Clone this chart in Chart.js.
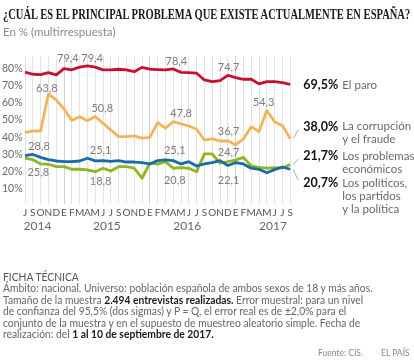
<!DOCTYPE html>
<html>
<head>
<meta charset="utf-8">
<script src="https://cdn.jsdelivr.net/npm/chart.js@4.4.1/dist/chart.umd.min.js"></script>
<style>
  body { margin: 0; background: #fff; }
  #wrap { position: relative; width: 414px; height: 362px; overflow: hidden; font-family: Lato, "Open Sans", sans-serif; }
  #chart { position: absolute; left: 0; top: 0; width: 414px; height: 362px; }
  .t { position: absolute; white-space: nowrap; transform-origin: 0 0; }
  #title { left: 3px; top: 7px; font: bold 14px/16px "Liberation Serif", serif; color: #1a1a1a; }
  #sub { left: 3px; top: 25px; font-size: 11.5px; line-height: 14px; color: #8a8a8a; }
  #ficha { left: 3px; top: 272px; font-size: 10.5px; line-height: 11.4px; color: #666; }
  #ficha b { color: #1a1a1a; }
  #ficha .head { color: #555; }
  .foot { top: 348px; font-size: 8.5px; line-height: 10px; color: #888; }
</style>
</head>
<body>
<div id="wrap">
  <canvas id="chart" width="414" height="362"></canvas>
  <div class="t" id="title">¿CUÁL ES EL PRINCIPAL PROBLEMA QUE EXISTE ACTUALMENTE EN ESPAÑA?</div>
  <div class="t" id="sub">En % (multirrespuesta)</div>
  <div class="t" id="ficha">
    <div class="head">FICHA TÉCNICA</div>
    <div><span id="widest">Ámbito: nacional. Universo: población española de ambos sexos de 18 y más años.</span></div>
    <div>Tamaño de la muestra <b>2.494 entrevistas realizadas.</b> Error muestral: para un nivel</div>
    <div>de confianza del 95,5% (dos sigmas) y P = Q, el error real es de ±2,0% para el</div>
    <div>conjunto de la muestra y en el supuesto de muestreo aleatorio simple. Fecha de</div>
    <div>realización: del <b>1 al 10 de septiembre de 2017.</b></div>
  </div>
  <div class="t foot" style="left:318px">Fuente: CIS.</div>
  <div class="t foot" style="left:381px">EL PAÍS</div>
</div>
<script>
// months from July 2014 to September 2017 (no August barometer)
const months = ['J','S','O','N','D',
  'E','F','M','A','M','J','J','S','O','N','D',
  'E','F','M','A','M','J','J','S','O','N','D',
  'E','F','M','A','M','J','J','S'];

const paro = [76.5, 75.3, 75.1, 76.2, 74.9,
  78.6, 77.9, 79.4, 80.2, 79.4, 77.8, 77.8, 78.2, 77.8, 76.8, 79.3,
  78.3, 78.0, 77.8, 78.4, 76.4, 76.2, 75.9, 72.0, 71.0, 71.6, 74.7,
  73.3, 72.4, 72.4, 69.7, 71.0, 71.0, 70.4, 69.5];

const corrupcion = [41.4, 42.5, 42.3, 63.8, 60.4,
  55.3, 48.5, 50.7, 48.3, 50.8, 46.9, 43.0, 39.1, 39.1, 39.6, 38.3,
  38.7, 47.2, 44.0, 47.8, 46.5, 45.3, 43.4, 37.2, 37.8, 36.6, 36.7,
  34.3, 37.8, 44.9, 42.0, 54.3, 47.8, 45.5, 38.0];

const politicos = [28.1, 28.8, 27.1, 25.8, 25.0,
  24.6, 24.6, 25.0, 26.6, 25.1, 25.2, 24.8, 25.2, 24.4, 24.4, 24.0,
  23.3, 25.2, 25.6, 25.2, 23.3, 24.6, 22.1, 23.3, 24.0, 25.2, 22.4,
  24.0, 23.3, 20.8, 20.2, 18.2, 20.0, 21.5, 20.2];

const economicos = [26.6, 25.8, 23.3, 23.1, 21.7,
  21.7, 20.2, 20.2, 19.8, 18.8, 20.8, 19.2, 21.7, 21.7, 20.8, 15.0,
  23.7, 23.2, 24.6, 20.8, 21.1, 20.8, 18.8, 29.1, 29.1, 23.7, 24.7,
  25.5, 27.1, 22.1, 21.3, 20.8, 21.1, 20.9, 23.0];

const yTicks = [10, 20, 30, 40, 50, 60, 70, 80];

const years = ['2014', '2015', '2016', '2017'];
const yearAt = [1.6, 10.5, 20.8, 31.8];

// value labels over the lines: text, month index, value where the text sits
const notes = [
  ['79,4', 5.5, 84.2], ['79,4', 8.6, 84.2], ['78,4', 19.4, 83.0], ['74,7', 26.1, 79.2],
  ['63,8', 2.8, 67.3], ['50,8', 9.9, 55.7], ['47,8', 20, 52.8], ['54,3', 30.6, 59.2],
  ['36,7', 26.1, 42.4], ['28,8', 1.8, 33.7], ['25,8', 1.7, 18.6], ['25,1', 9.7, 31.4],
  ['18,8', 9.7, 13.4], ['25,1', 19.2, 31.4], ['20,8', 19.2, 14.0], ['24,7', 26.1, 30.2],
  ['22,1', 26.1, 14.0]
];

const endValues = ['69,5%', '38,0%', '21,7%', '20,7%'];
const endNames = [['El paro'], ['La corrupción', 'y el fraude'], ['Los problemas', 'económicos'],
  ['Los políticos,', 'los partidos', 'y la política']];
const endAt = [69.1, 44.9, 27.9, 12.1];

const colors = ['#c8102e', '#f2b457', '#8fb521', '#1a6aa5'];
const series = [paro, corrupcion, economicos, politicos];

const textPlugin = {
  id: 'textPlugin',
  afterDatasetsDraw(chart) {
    const { ctx, chartArea, scales: { x, y } } = chart;
    ctx.save();
    ctx.textAlign = 'center';
    ctx.textBaseline = 'middle';
    ctx.font = '11px Lato';
    ctx.fillStyle = '#7d7d7d';
    notes.forEach(n => ctx.fillText(n[0], x.getPixelForValue(n[1]), y.getPixelForValue(n[2])));

    ctx.font = '12px Lato';
    ctx.fillStyle = '#666';
    years.forEach((yr, i) => ctx.fillText(yr, x.getPixelForValue(yearAt[i]), chartArea.bottom + 22));

    const last = months.length - 1;
    const xe = x.getPixelForValue(last);
    endValues.forEach((val, i) => {
      const ly = y.getPixelForValue(endAt[i]);
      const ye = y.getPixelForValue(series[i][last]);
      if (Math.abs(ly - ye) > 4) {
        ctx.strokeStyle = '#aaa';
        ctx.lineWidth = 1;
        ctx.beginPath();
        ctx.moveTo(xe + 3, ye);
        ctx.lineTo(xe + 8, ly + (ye > ly ? 3 : -3));
        ctx.stroke();
      }
      ctx.textAlign = 'right';
      ctx.font = 'bold 12.5px Lato';
      ctx.fillStyle = '#111';
      ctx.fillText(val, xe + 48, ly);
      ctx.textAlign = 'left';
      ctx.font = '11.5px Lato';
      ctx.fillStyle = '#6a6a6a';
      endNames[i].forEach((line, k) => ctx.fillText(line, xe + 52, ly + k * 13));
    });
    ctx.restore();
  }
};

function dataset(values, color) {
  return {
    data: values,
    borderColor: color,
    borderWidth: 2.8,
    pointRadius: 0,
    tension: 0,
    borderJoinStyle: 'round',
    fill: false
  };
}

document.fonts.ready.then(() => {
  const title = document.getElementById('title');
  title.style.transform = `scaleX(${407 / title.offsetWidth})`;
  const ficha = document.getElementById('ficha');
  ficha.style.transform = `scaleX(${370 / document.getElementById('widest').offsetWidth})`;

  new Chart(document.getElementById('chart'), {
    type: 'line',
    data: {
      labels: months,
      datasets: [
        dataset(politicos, colors[3]),
        dataset(economicos, colors[2]),
        dataset(corrupcion, colors[1]),
        dataset(paro, colors[0])
      ]
    },
    options: {
      responsive: false,
      animation: false,
      devicePixelRatio: 1,
      layout: { padding: { left: 2, top: 55.8, right: 123.8, bottom: 127.9 } },
      plugins: { legend: { display: false }, tooltip: { enabled: false } },
      scales: {
        x: {
          offset: false,
          border: { display: false },
          grid: {
            drawTicks: false,
            lineWidth: 1,
            color: c => months[c.index] === 'E' ? '#cfcfcf' : '#e3e3e3'
          },
          ticks: { autoSkip: false, maxRotation: 0, padding: 3, color: '#555', font: { family: 'Lato', size: 10 } },
          afterFit: s => { s.height = 30; }
        },
        y: {
          min: 0,
          max: 86,
          border: { display: false },
          grid: { display: false },
          afterBuildTicks: s => { s.ticks = yTicks.map(v => ({ value: v })); },
          ticks: {
            crossAlign: 'far',
            labelOffset: 2,
            color: '#6a6a6a',
            font: { family: 'Lato', size: 10.5 },
            callback: v => v + '%'
          },
          afterFit: s => { s.width = 23; }
        }
      }
    },
    plugins: [textPlugin]
  });
});
</script>
</body>
</html>
